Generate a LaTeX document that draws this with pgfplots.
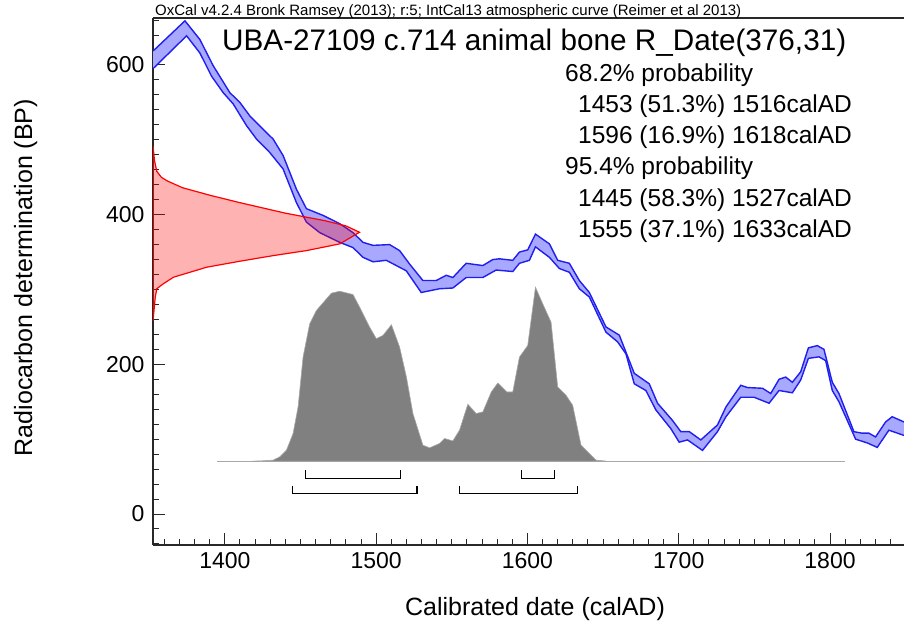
\documentclass[border=0pt]{standalone}
\usepackage{fontspec}
\setmainfont{Liberation Sans}
\usepackage{pgfplots}
\pgfplotsset{compat=1.18}
\usepgfplotslibrary{fillbetween}
\definecolor{bandfill}{RGB}{168,168,255}
\definecolor{bandedge}{RGB}{30,30,240}
\definecolor{histfill}{RGB}{128,128,128}
\definecolor{histedge}{RGB}{168,168,168}
\definecolor{axcol}{RGB}{40,40,40}
\begin{document}
\begin{tikzpicture}[x=1pt,y=1pt]
\begin{axis}[
  at={(153pt,83pt)}, anchor=south west,
  scale only axis, width=751pt, height=527pt,
  xmin=1352.5, xmax=1848.9, ymin=-41.4, ymax=662.8,
  axis x line=box, axis y line=left,
  axis line style={-, line width=1.4pt, axcol},
  xtick={1400,1500,1600,1700,1800},
  ytick={0,200,400,600},
  minor xtick={1360,1370,...,1840},
  minor ytick={-40,-20,...,660},
  xtick pos=bottom, ytick pos=left,
  tick align=inside,
  major tick length=12pt, minor tick length=6pt,
  tick style={line width=1pt, axcol},
  tick label style={font=\fontsize{23}{23}\selectfont},
  /pgf/number format/1000 sep={},
  /pgf/number format/assume math mode=true,
  yticklabel style={xshift=-5pt},
  xticklabel style={yshift=-4pt},
]
% calibration curve band
\addplot[name path=upper, bandedge, line width=1.4pt] coordinates {
(1352.5,619) (1353.8,621) (1373.6,659) (1383.5,634) (1392.3,599) (1403.3,563) (1409.9,550) (1416.5,532) (1425.3,514) (1431.9,501) (1438.5,479) (1447.3,434) (1453.9,408) (1464.9,399) (1475.9,388) (1484.7,376) (1491.3,363) (1497.9,359) (1508.9,360) (1515.5,352) (1522.1,334) (1530.9,312) (1539.7,312) (1546.3,319) (1550.7,316) (1559.5,335) (1570.5,332) (1577.1,340) (1581.5,341) (1590.3,339) (1594.7,350) (1600.2,353) (1605.3,374) (1614.5,361) (1620,339) (1627.7,335) (1634.3,312) (1640.9,296) (1651.9,250) (1660.7,239) (1670.6,188) (1680.5,174) (1686,148) (1695.9,125) (1701.4,110) (1707,110) (1714.6,99) (1725.6,119) (1731.2,143) (1741,172) (1745.4,169) (1755.4,168) (1760.8,161) (1766.3,180) (1770.7,183) (1775.1,176) (1780.6,190) (1785.7,222) (1791.6,225) (1796,220) (1801.5,176) (1805.9,161) (1815.8,110) (1821.3,108) (1825.7,108) (1830.1,103) (1836.7,123) (1841.1,130) (1848.9,123)
};
\addplot[name path=lower, bandedge, line width=1.4pt] coordinates {
(1352.5,595) (1374.7,639) (1383.5,616) (1391.2,585) (1398.9,563) (1405.5,548) (1414.3,519) (1420.9,501) (1429.7,483) (1438.5,461) (1447.3,416) (1453.9,390) (1462.7,376) (1475.9,363) (1484.7,356) (1491.3,343) (1497.9,337) (1506.7,339) (1519.9,325) (1529.8,296) (1541.9,301) (1550.7,302) (1559.5,316) (1570.5,316) (1579.3,326) (1590.3,324) (1594.7,335) (1601.3,339) (1605.3,357) (1614.5,343) (1621.1,328) (1627.7,323) (1634.3,301) (1640.9,290) (1651.9,243) (1659.6,230) (1665.1,214) (1670.6,174) (1678.3,165) (1684.9,139) (1694.8,114) (1700.3,96) (1705.8,99) (1715.7,85) (1725.6,110) (1731.2,130) (1741,156) (1749.8,156) (1759.7,148) (1766.3,165) (1775.1,162) (1780.6,179) (1785.7,208) (1792.7,210) (1797.1,205) (1801.5,165) (1805.9,150) (1816.9,100) (1824.6,95) (1831.2,89) (1838.9,112) (1848.9,105)
};
\addplot[draw=none, fill=bandfill] fill between[of=upper and lower];
% radiocarbon measurement distribution
\addplot[draw=red, line width=1.2pt, fill=red, fill opacity=0.3] coordinates {
(1352.5,492) (1353.5,472) (1355,458) (1358,450) (1362,445) (1372,436) (1390,426) (1410,416) (1440,402) (1466,392) (1480,385) (1489,376.5) (1476,361) (1454,352) (1432,345.3) (1410,337.8) (1388,329.8) (1366,316.4) (1359.3,307.6) (1355,301) (1354,290) (1353.3,275) (1352.5,258)
} -- cycle;
% calibrated distribution
\addplot[histedge, line width=1pt] coordinates {(1395,70.7) (1810,70.7)};
\addplot[draw=histedge, line width=0.6pt, fill=histfill] coordinates {
(1418,70.7) (1423.1,70.9) (1431.9,72) (1436.3,76.4) (1440.7,85.3) (1445.1,107.6) (1448.4,143.1) (1451.7,209.7) (1456.1,254.3) (1460.5,272) (1470.4,295.1) (1475.9,297.7) (1484.7,293.3) (1489.1,276.4) (1495.7,249.7) (1500.1,234.3) (1504.5,238.7) (1510.1,252.9) (1515.5,223.1) (1520,183.1) (1524.3,134.3) (1530.9,92) (1535.3,88.4) (1541.9,94.3) (1545.2,100.9) (1550.7,97.7) (1555.1,112) (1560.6,146.7) (1566.1,134.3) (1570.5,136.4) (1576.1,163.1) (1580.4,175.1) (1586.4,163.1) (1590.3,163.1) (1594.7,209.7) (1600.2,225.3) (1605.3,303.1) (1610.1,280.9) (1615.6,256.4) (1620,169.7) (1625.5,158.7) (1629.9,145.3) (1635.4,92) (1639.8,83.1) (1645.3,72) (1652,70.7)
} -- cycle;
% ranges
\addplot[black, line width=1.1pt] coordinates {(1453,59) (1453,48) (1516,48) (1516,59)};
\addplot[black, line width=1.1pt] coordinates {(1596,59) (1596,48) (1618,48) (1618,59)};
\addplot[black, line width=1.1pt] coordinates {(1445,38) (1445,27) (1527,27) (1527,38)};
\addplot[black, line width=1.1pt] coordinates {(1555,38) (1555,27) (1633,27) (1633,38)};
\end{axis}
\node[anchor=base west, inner sep=0, font=\fontsize{15}{15}\selectfont] at (155,612) {OxCal v4.2.4 Bronk Ramsey (2013); r:5; IntCal13 atmospheric curve (Reimer et al 2013)};
\node[anchor=base west, inner sep=0, font=\fontsize{29.7}{30}\selectfont] at (222,577) {UBA-27109 c.714 animal bone R\_Date(376,31)};
\begin{scope}[every node/.style={anchor=base west, inner sep=0, font=\fontsize{24.5}{25}\selectfont}]
\node at (565,546) {68.2\% probability};
\node at (578,515) {1453 (51.3\%) 1516calAD};
\node at (578,484) {1596 (16.9\%) 1618calAD};
\node at (565,453) {95.4\% probability};
\node at (578,421) {1445 (58.3\%) 1527calAD};
\node at (578,390) {1555 (37.1\%) 1633calAD};
\end{scope}
\node[anchor=base, inner sep=0, font=\fontsize{25}{25}\selectfont] at (535,12) {Calibrated date (calAD)};
\node[anchor=base, inner sep=0, rotate=90, font=\fontsize{25}{25}\selectfont] at (32,350.5) {Radiocarbon determination (BP)};
\pgfresetboundingbox
\path[use as bounding box] (0,0) rectangle (904,628);
\end{tikzpicture}
\end{document}
